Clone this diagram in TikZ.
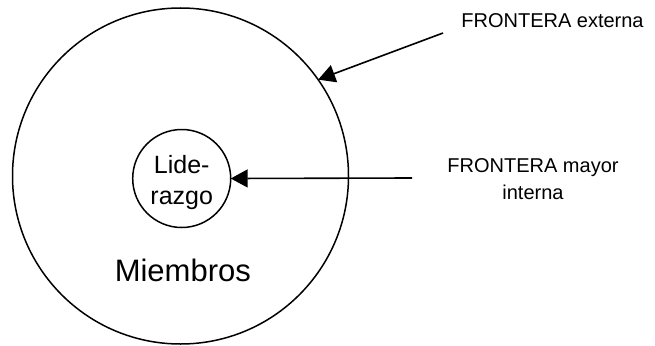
\documentclass[tikz,border=0pt]{standalone}
\usepackage{fontspec}
\setmainfont{Liberation Sans}
\usetikzlibrary{arrows.meta}

\tikzset{
  ring/.style={circle, draw, line width=1.5pt, inner sep=0pt, outer sep=0pt},
  pointer/.style={line width=1.6pt, -{Triangle[length=17pt, width=18pt]}},
  callout/.style={font=\fontsize{20}{27}\selectfont, align=center, inner sep=0pt, anchor=base},
}

\begin{document}
\begin{tikzpicture}[x=1pt, y=-1pt]
  \useasboundingbox (0,0) rectangle (655,345);

  % the group and its leadership core
  \node[ring, minimum size=336pt] (outer) at (180.5,176) {};
  \node[ring, minimum size=98pt] (inner) at (181.7,178.5) {};
  \node[align=center, inner sep=0pt, font=\fontsize{25}{31}\selectfont, yshift=-4pt]
    (lead) at (inner.center) {Lide-\\razgo};
  \node[inner sep=0pt, anchor=base, font=\fontsize{31}{37}\selectfont]
    (members) at (182.8,281.5) {Miembros};

  % boundary labels (base anchor sits on the last line)
  \node[callout] (extlabel) at (552.5,28) {FRONTERA externa};
  \node[callout] (intlabel) at (533,199) {FRONTERA mayor\\interna};

  % pointers to the boundaries
  \coordinate (extfrom) at (443,33);
  \coordinate (intfrom) at (412,178);
  \draw[pointer] (extfrom) -- (outer.35.6);
  \draw[pointer] (intfrom) -- (inner.east);
\end{tikzpicture}
\end{document}
